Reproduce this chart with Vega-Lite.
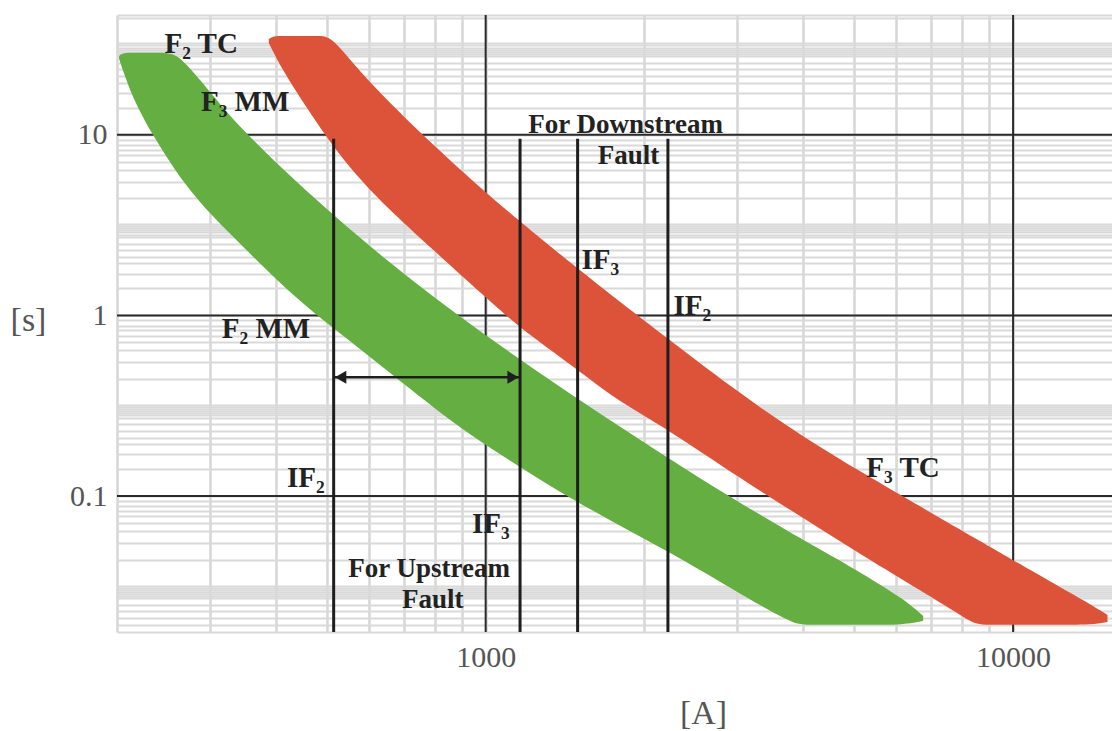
{
  "$schema": "https://vega.github.io/schema/vega-lite/v6.json",
  "width": 995,
  "height": 617,
  "autosize": {"type": "none"},
  "padding": {"left": 117, "top": 15, "right": 0, "bottom": 99},
  "background": "white",
  "config": {"view": {"stroke": null}},
  "datasets": {
    "majV": [
      {"x": 1000, "y": 46, "y2": 0.0177},
      {"x": 10000, "y": 46, "y2": 0.0177}
    ],
    "majH": [
      {"x": 200, "x2": 15400, "y": 10},
      {"x": 200, "x2": 15400, "y": 1},
      {"x": 200, "x2": 15400, "y": 0.1}
    ],
    "green": [
      {"x": 201.8, "y": 27.3, "y2": 26.3},
      {"x": 205.3, "y": 28.4, "y2": 22.6},
      {"x": 215.4, "y": 28.4, "y2": 15.4},
      {"x": 234, "y": 28.4, "y2": 9.87},
      {"x": 253.2, "y": 28.4, "y2": 6.92},
      {"x": 264.4, "y": 26.6, "y2": 5.71},
      {"x": 288.5, "y": 19.9, "y2": 4.16},
      {"x": 314.8, "y": 14.5, "y2": 3.18},
      {"x": 348, "y": 10.5, "y2": 2.38},
      {"x": 403.7, "y": 6.83, "y2": 1.54},
      {"x": 472.3, "y": 4.49, "y2": 1.03},
      {"x": 579.8, "y": 2.66, "y2": 0.649},
      {"x": 690, "y": 1.75, "y2": 0.432},
      {"x": 896.7, "y": 0.975, "y2": 0.235},
      {"x": 1160, "y": 0.571, "y2": 0.145},
      {"x": 1468, "y": 0.357, "y2": 0.095},
      {"x": 1802, "y": 0.241, "y2": 0.0683},
      {"x": 2192, "y": 0.166, "y2": 0.0503},
      {"x": 2811, "y": 0.105, "y2": 0.0331},
      {"x": 3346, "y": 0.0775, "y2": 0.0244},
      {"x": 3700, "y": 0.0654, "y2": 0.021},
      {"x": 3915, "y": 0.0594, "y2": 0.0194},
      {"x": 4200, "y": 0.0528, "y2": 0.0194},
      {"x": 5198, "y": 0.0371, "y2": 0.0194},
      {"x": 6245, "y": 0.0266, "y2": 0.0194},
      {"x": 6753, "y": 0.0217, "y2": 0.0204}
    ],
    "red": [
      {"x": 388, "y": 33.9, "y2": 32.2},
      {"x": 396.6, "y": 35.2, "y2": 28.4},
      {"x": 408.9, "y": 35.2, "y2": 23.75},
      {"x": 446, "y": 35.2, "y2": 15.8},
      {"x": 481, "y": 35.2, "y2": 11.4},
      {"x": 509, "y": 35.2, "y2": 8.97},
      {"x": 562.3, "y": 24.4, "y2": 6.17},
      {"x": 641, "y": 16.2, "y2": 4.1},
      {"x": 797, "y": 8.7, "y2": 2.29},
      {"x": 991, "y": 4.9, "y2": 1.29},
      {"x": 1150, "y": 3.39, "y2": 0.869},
      {"x": 1494, "y": 1.82, "y2": 0.503},
      {"x": 1747, "y": 1.27, "y2": 0.348},
      {"x": 2212, "y": 0.746, "y2": 0.235},
      {"x": 3067, "y": 0.361, "y2": 0.123},
      {"x": 4002, "y": 0.212, "y2": 0.0756},
      {"x": 5198, "y": 0.134, "y2": 0.0466},
      {"x": 6753, "y": 0.0858, "y2": 0.0295},
      {"x": 8000, "y": 0.0643, "y2": 0.0217},
      {"x": 8510, "y": 0.0579, "y2": 0.0194},
      {"x": 9000, "y": 0.0527, "y2": 0.0194},
      {"x": 9616, "y": 0.0472, "y2": 0.0194},
      {"x": 12545, "y": 0.0302, "y2": 0.0194},
      {"x": 13990, "y": 0.0253, "y2": 0.0194},
      {"x": 15100, "y": 0.022, "y2": 0.0201}
    ],
    "lines": [
      {"x": 515, "y": 9.5, "y2": 0.0177},
      {"x": 1162, "y": 9.5, "y2": 0.0177},
      {"x": 1494, "y": 9.5, "y2": 0.0177},
      {"x": 2216, "y": 9.5, "y2": 0.0177}
    ],
    "arrow": [
      {"x": 515, "x2": 1162, "y": 0.4545}
    ],
    "heads": [
      {"x": 531, "y": 0.4545, "dir": "left"},
      {"x": 1127, "y": 0.4545, "dir": "right"}
    ],
    "labelsSub": [
      {"x": 246, "y": 28.4, "label": "F₂ TC"},
      {"x": 288.5, "y": 13.57, "label": "F₃ MM"},
      {"x": 1520, "y": 1.818, "label": "IF₃"},
      {"x": 2270, "y": 1.0, "label": "IF₂"},
      {"x": 316, "y": 0.746, "label": "F₂ MM"},
      {"x": 420, "y": 0.1121, "label": "IF₂"},
      {"x": 942, "y": 0.0625, "label": "IF₃"},
      {"x": 5270, "y": 0.1274, "label": "F₃ TC"}
    ],
    "labelsCenter": [
      {"x": 1842, "y": 10.26, "label": "For Downstream"},
      {"x": 1866, "y": 6.915, "label": "Fault"},
      {"x": 781.6, "y": 0.0357, "label": "For Upstream"},
      {"x": 793.6, "y": 0.02405, "label": "Fault"}
    ]
  },
  "encoding": {
    "x": {
      "field": "x",
      "type": "quantitative",
      "scale": {"type": "log", "domain": [200, 15400], "nice": false},
      "axis": {
        "title": "[A]",
        "values": [200, 300, 400, 500, 600, 700, 800, 900, 1000, 2000, 3000, 4000, 5000, 6000, 7000, 8000, 9000, 10000],
        "labelExpr": "datum.value == 1000 ? '1000' : datum.value == 10000 ? '10000' : ''",
        "grid": true,
        "ticks": false,
        "domain": false,
        "gridColor": "#d6d6d6",
        "gridWidth": 2.5,
        "labelFont": "Liberation Serif",
        "labelFontSize": 30,
        "labelColor": "#555555",
        "labelPadding": 10,
        "labelOverlap": false,
        "labelFlush": false,
        "titleFont": "Liberation Serif",
        "titleFontSize": 34,
        "titleFontWeight": "normal",
        "titleColor": "#555555",
        "titleX": 586,
        "titleY": 81,
        "titleAlign": "center",
        "titleBaseline": "middle"
      }
    },
    "y": {
      "field": "y",
      "type": "quantitative",
      "scale": {"type": "log", "domain": [0.0177, 46], "nice": false},
      "axis": {
        "title": "[s]",
        "values": [0.0178, 0.0194, 0.0211, 0.023, 0.025, 0.0272, 0.028, 0.0288, 0.0296, 0.0304, 0.0312, 0.032, 0.0445, 0.055, 0.064, 0.0711, 0.0774, 0.0826, 0.0879, 0.0938,
                   0.1, 0.141, 0.17, 0.194, 0.211, 0.23, 0.25, 0.272, 0.28, 0.288, 0.296, 0.304, 0.312, 0.32, 0.445, 0.55, 0.64, 0.711, 0.774, 0.826, 0.879, 0.938,
                   1, 1.41, 1.7, 1.94, 2.11, 2.3, 2.5, 2.72, 2.8, 2.88, 2.96, 3.04, 3.12, 3.2, 4.45, 5.5, 6.4, 7.11, 7.74, 8.26, 8.79, 9.38,
                   10, 14.1, 17, 19.4, 21.1, 23, 25, 27.2, 28, 28.8, 29.6, 30.4, 31.2, 32, 44.5, 45.8],
        "labelExpr": "datum.value == 10 ? '10' : datum.value == 1 ? '1' : datum.value == 0.1 ? '0.1' : ''",
        "grid": true,
        "ticks": false,
        "domain": false,
        "gridColor": "#d9d9d9",
        "gridWidth": 2,
        "labelFont": "Liberation Serif",
        "labelFontSize": 30,
        "labelColor": "#555555",
        "labelPadding": 10,
        "labelOverlap": false,
        "labelFlush": false,
        "titleFont": "Liberation Serif",
        "titleFontSize": 34,
        "titleFontWeight": "normal",
        "titleColor": "#555555",
        "titleAngle": 0,
        "titleX": -89,
        "titleY": 305,
        "titleAlign": "center",
        "titleBaseline": "middle"
      }
    }
  },
  "layer": [
    {
      "data": {"name": "majV"},
      "mark": {"type": "rule", "color": "#2a2a2a", "strokeWidth": 2},
      "encoding": {"y2": {"field": "y2"}}
    },
    {
      "data": {"name": "majH"},
      "mark": {"type": "rule", "color": "#2a2a2a", "strokeWidth": 2},
      "encoding": {"x2": {"field": "x2"}}
    },
    {
      "data": {"name": "green"},
      "mark": {"type": "area", "color": "#64ae42", "opacity": 1, "interpolate": "basis", "clip": true},
      "encoding": {"y2": {"field": "y2"}}
    },
    {
      "data": {"name": "red"},
      "mark": {"type": "area", "color": "#dd5339", "opacity": 1, "interpolate": "basis", "clip": true},
      "encoding": {"y2": {"field": "y2"}}
    },
    {
      "data": {"name": "lines"},
      "mark": {"type": "rule", "color": "#1e1e1e", "strokeWidth": 3},
      "encoding": {"y2": {"field": "y2"}}
    },
    {
      "data": {"name": "arrow"},
      "mark": {"type": "rule", "color": "#1e1e1e", "strokeWidth": 2.5},
      "encoding": {"x2": {"field": "x2"}}
    },
    {
      "data": {"name": "heads"},
      "mark": {"type": "point", "filled": true, "opacity": 1, "color": "#1e1e1e", "size": 170},
      "encoding": {
        "shape": {"field": "dir", "type": "nominal", "scale": {"domain": ["left", "right"], "range": ["triangle-left", "triangle-right"]}, "legend": null}
      }
    },
    {
      "data": {"name": "labelsSub"},
      "mark": {"type": "text", "align": "left", "baseline": "alphabetic", "font": "Liberation Serif", "fontSize": 29, "fontWeight": "bold", "color": "#222222"},
      "encoding": {"text": {"field": "label"}}
    },
    {
      "data": {"name": "labelsCenter"},
      "mark": {"type": "text", "align": "center", "baseline": "alphabetic", "font": "Liberation Serif", "fontSize": 27, "fontWeight": "bold", "color": "#222222"},
      "encoding": {"text": {"field": "label"}}
    }
  ]
}
